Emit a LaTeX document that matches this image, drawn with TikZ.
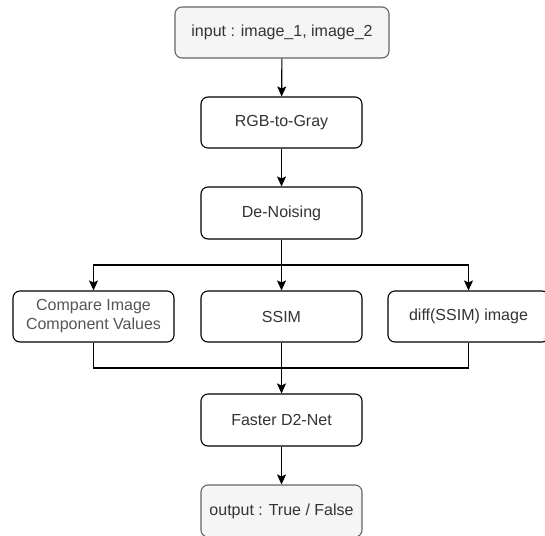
\documentclass[tikz,border=0pt]{standalone}
\usepackage{fontspec}
\setmainfont{Liberation Sans}
\usetikzlibrary{arrows.meta}
\definecolor{txt}{HTML}{333333}
\definecolor{txtlight}{HTML}{555555}
\definecolor{ioborder}{HTML}{666666}
\definecolor{iofill}{HTML}{F5F5F5}
\tikzset{
  box/.style={draw=black, line width=1.1pt, rounded corners=7pt, fill=white,
    minimum width=161pt, minimum height=51pt, inner sep=0pt, align=center,
    text=txt, font=\fontsize{16}{19}\selectfont},
  iobox/.style={box, draw=ioborder, fill=iofill},
  arr/.style={line width=1.1pt, -{Stealth[length=10pt, width=9pt, inset=2pt]}},
  link/.style={line width=1.1pt}
}
\begin{document}
\begin{tikzpicture}[x=1pt, y=-1pt]
  \useasboundingbox (0,0) rectangle (545,535);

  % processing chain
  \node[iobox, minimum width=214pt] (in) at (282,32.5) {input : image\_1, image\_2};
  \node[box] (rgb) at (281.5,122.5) {RGB-to-Gray};
  \node[box, minimum height=52pt] (den) at (281.5,213) {De-Noising};

  % three parallel comparisons
  \node[box, text=txtlight] (cmp) at (93.5,316.5) {Compare Image\\Component Values};
  \node[box] (ssim) at (281.5,316.5) {SSIM};
  \node[box] (diff) at (468.5,316.5) {diff(SSIM) image};

  \node[box, minimum height=52pt] (d2) at (281.5,420) {Faster D2-Net};
  \node[iobox, minimum height=52pt] (out) at (281.5,511) {output : True / False};

  % split and merge points
  \coordinate (split) at (281.5,265);
  \coordinate (join) at (281.5,368);

  \draw[arr] (in) -- (rgb);
  \draw[arr] (rgb) -- (den);
  \draw[arr] (den) -- (ssim);
  \draw[arr] (split) -| (cmp);
  \draw[arr] (split) -| (diff);

  \draw[link] (cmp.south) |- (join);
  \draw[link] (diff.south) |- (join);
  \draw[arr] (ssim) -- (d2);
  \draw[arr] (d2) -- (out);
\end{tikzpicture}
\end{document}
